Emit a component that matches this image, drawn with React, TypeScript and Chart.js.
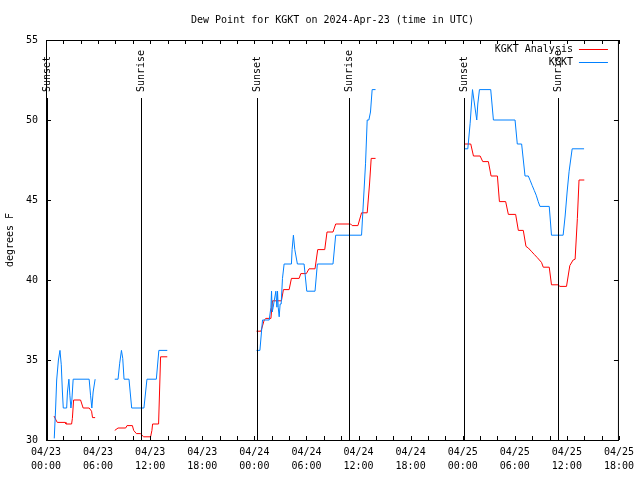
import React, { useEffect, useRef } from "react";
import { Chart, registerables } from "chart.js";

Chart.register(...registerables);

const TITLE = "Dew Point for KGKT on 2024-Apr-23 (time in UTC)";
const Y_LABEL = "degrees F";
const DAYS = ["04/23", "04/24", "04/25", "04/26"];
const X_TICK_HOURS = [0, 6, 12, 18, 24, 30, 36, 42, 48, 54, 60, 66];
const X_MIN = 0;
const X_MAX = 66;
const X_MINOR_STEP = 2;
const Y_TICKS = [30, 35, 40, 45, 50, 55];
const Y_MIN = 30;
const Y_MAX = 55;

const SERIES_NAMES = ["KGKT Analysis", "KGKT"];

const SUN_HOURS = [0.17, 10.94, 24.26, 34.94, 48.2, 58.93];
const SUN_LABELS = ["Sunset", "Sunrise", "Sunset", "Sunrise", "Sunset", "Sunrise"];

// KGKT observations (blue); null = gap
const OBS_T = [
  0.95, 1.11, 1.23, 1.43, 1.61, 1.76, 1.89, 1.99, 2.38, 2.47, 2.64, 2.75, 2.87, 2.98, 3.13, 4.97, 5.13, 5.28, 5.43, 5.66,
  6.8,
  7.92, 8.3, 8.49, 8.69, 8.84, 8.99, 9.56, 9.87, 11.28, 11.63, 12.71, 13.0, 13.97,
  19,
  24.25, 24.64, 24.94, 25.71, 25.91, 25.98, 26.06, 26.17, 26.29, 26.48, 26.6, 26.67, 26.75, 26.86, 26.97, 27.09, 27.24, 27.43,
  28.27, 28.35, 28.5, 28.66, 28.96, 29.73, 30.04, 30.99, 31.26, 33.06, 33.37, 36.35, 36.81, 37.0, 37.19, 37.38, 37.57, 37.96,
  43,
  48.21, 48.59, 48.86, 49.13, 49.36, 49.62, 49.74, 49.93, 51.23, 51.54, 54.03, 54.29, 54.79, 55.18, 55.56, 55.79, 56.01,
  56.24, 56.47, 56.7, 56.9, 57.97, 58.23, 59.57, 59.8, 60.03, 60.26, 60.61, 61.98,
];
const OBS_V = [
  30.1, 32.0, 33.75, 35.0, 35.6, 34.7, 33.0, 32.0, 32.0, 33.0, 33.8, 32.8, 32.0, 32.5, 33.8, 33.8, 32.8, 32.0, 33.0, 33.8,
  null,
  33.8, 33.8, 34.8, 35.6, 35.1, 33.8, 33.8, 32.0, 32.0, 33.8, 33.8, 35.6, 35.6,
  null,
  35.6, 35.6, 37.5, 37.5, 38.3, 39.3, 38.0, 38.3, 38.7, 39.3, 38.3, 39.3, 38.3, 37.7, 38.5, 38.5, 40.1, 41.0,
  41.0, 41.9, 42.8, 41.9, 41.0, 41.0, 39.3, 39.3, 41.0, 41.0, 42.8, 42.8, 47.3, 50.0, 50.0, 50.5, 51.9, 51.9,
  null,
  48.2, 48.2, 49.8, 51.9, 51.0, 50.0, 51.0, 51.9, 51.9, 50.0, 50.0, 48.5, 48.5, 46.5, 46.5, 46.2, 45.9,
  45.6, 45.3, 44.9, 44.6, 44.6, 42.8, 42.8, 44.0, 45.5, 46.8, 48.2, 48.2,
];

// KGKT analysis (red); null = gap
const ANA_T = [
  0.92, 1.15, 1.3, 2.22, 2.3, 2.95, 3.04, 3.18, 3.98, 4.28, 4.97, 5.25, 5.36, 5.66,
  6.8,
  7.92, 8.3, 9.18, 9.33, 9.95, 10.1, 10.41, 10.87, 11.25, 12.05, 12.2, 12.28, 12.97, 13.2, 13.97,
  19,
  24.25, 24.76, 25.14, 25.33, 25.91, 26.09, 27.12, 27.35, 28.01, 28.27, 29.16, 29.35, 29.99, 30.3, 30.99, 31.3, 32.11,
  32.37, 33.06, 33.37, 35.09, 35.27, 35.93, 36.35, 37.0, 37.27, 37.46, 37.96,
  43,
  48.21, 48.93, 49.24, 50.01, 50.31, 50.96, 51.27, 52.0, 52.23, 52.95, 53.26, 54.1, 54.41, 54.98, 55.29, 55.56, 55.9,
  56.24, 56.59, 57.08, 57.28, 57.97, 58.23, 59.0, 59.2, 59.96, 60.34, 60.72, 60.95, 61.21, 61.4, 62.01,
];
const ANA_V = [
  31.5, 31.25, 31.1, 31.1, 31.0, 31.0, 31.35, 32.5, 32.5, 32.0, 32.0, 31.8, 31.4, 31.4,
  null,
  30.6, 30.75, 30.75, 30.9, 30.9, 30.6, 30.4, 30.4, 30.2, 30.2, 30.6, 31.0, 31.0, 35.2, 35.2,
  null,
  36.8, 36.8, 37.5, 37.6, 37.6, 38.7, 38.7, 39.4, 39.4, 40.1, 40.1, 40.4, 40.4, 40.7, 40.7, 41.9, 41.9,
  43.0, 43.0, 43.5, 43.5, 43.4, 43.4, 44.2, 44.2, 46.0, 47.6, 47.6,
  null,
  48.5, 48.5, 47.75, 47.75, 47.4, 47.4, 46.5, 46.5, 44.9, 44.9, 44.1, 44.1, 43.1, 43.1, 42.1, 42.0, 41.8,
  41.6, 41.4, 41.1, 40.8, 40.8, 39.7, 39.7, 39.6, 39.6, 40.9, 41.25, 41.3, 43.85, 46.25, 46.25,
];

const RED = "#ff0000";
const BLUE = "#0080ff";
const FONT = "DejaVu Sans Mono";

function pad2(n: number) {
  return n < 10 ? "0" + n : String(n);
}

export default function App() {
  const ref = useRef<HTMLCanvasElement>(null);

  useEffect(() => {
    const canvas = ref.current;
    if (!canvas) return;
    const toPoints = (t: number[], v: (number | null)[]) => t.map((x, i) => ({ x, y: v[i] }));

    const decor = {
      id: "decor",
      afterDatasetsDraw(chart: any) {
        const { ctx, chartArea } = chart;
        const { left, right, top, bottom } = chartArea;
        const xs = chart.scales.x;
        const ys = chart.scales.y;
        ctx.save();
        ctx.font = `10px "${FONT}"`;
        ctx.fillStyle = "#000";
        ctx.strokeStyle = "#000";
        ctx.lineWidth = 1;

        // sunrise / sunset lines
        SUN_HOURS.forEach((h, i) => {
          const x = Math.round(xs.getPixelForValue(h)) + 0.5;
          ctx.beginPath();
          ctx.moveTo(x, top + 58);
          ctx.lineTo(x, bottom);
          ctx.stroke();
          ctx.save();
          ctx.translate(x, top + 52);
          ctx.rotate(-Math.PI / 2);
          ctx.textAlign = "left";
          ctx.textBaseline = "middle";
          ctx.fillText(SUN_LABELS[i], 0, 0);
          ctx.restore();
        });

        // frame
        ctx.strokeRect(left + 0.5, top + 0.5, right - left - 1, bottom - top);

        // x ticks
        ctx.beginPath();
        for (let h = X_MIN; h <= X_MAX; h += X_MINOR_STEP) {
          const x = Math.round(xs.getPixelForValue(h)) + 0.5;
          ctx.moveTo(x, bottom);
          ctx.lineTo(x, bottom - 4);
          ctx.moveTo(x, top);
          ctx.lineTo(x, top + 4);
        }
        // y ticks
        Y_TICKS.forEach((v) => {
          const y = Math.round(ys.getPixelForValue(v)) + 0.5;
          ctx.moveTo(left, y);
          ctx.lineTo(left + 5, y);
          ctx.moveTo(right, y);
          ctx.lineTo(right - 5, y);
        });
        ctx.stroke();

        // legend
        const colors = [RED, BLUE];
        SERIES_NAMES.forEach((name, i) => {
          const y = top + 9 + i * 13;
          ctx.fillStyle = "#000";
          ctx.textAlign = "right";
          ctx.textBaseline = "middle";
          ctx.fillText(name, right - 46, y);
          ctx.strokeStyle = colors[i];
          ctx.beginPath();
          ctx.moveTo(right - 40, Math.round(y) + 0.5);
          ctx.lineTo(right - 11, Math.round(y) + 0.5);
          ctx.stroke();
        });
        ctx.restore();
      },
    };

    const chart = new Chart(canvas, {
      type: "line",
      data: {
        datasets: [
          {
            label: SERIES_NAMES[0],
            data: toPoints(ANA_T, ANA_V),
            borderColor: RED,
            backgroundColor: RED,
            borderWidth: 1,
            pointRadius: 0,
            tension: 0,
            spanGaps: false,
            order: 1,
          },
          {
            label: SERIES_NAMES[1],
            data: toPoints(OBS_T, OBS_V),
            borderColor: BLUE,
            backgroundColor: BLUE,
            borderWidth: 1,
            pointRadius: 0,
            tension: 0,
            spanGaps: false,
            order: 0,
          },
        ],
      },
      options: {
        responsive: false,
        animation: false,
        layout: { padding: { left: 0, right: 19, top: 0, bottom: 0 } },
        plugins: {
          legend: { display: false },
          tooltip: { enabled: false },
          title: {
            display: true,
            text: TITLE,
            fullSize: false,
            color: "#000",
            font: { family: FONT, size: 10, weight: "normal", lineHeight: 1.2 },
            padding: { top: 14, bottom: 14 },
          },
        },
        scales: {
          x: {
            type: "linear",
            min: X_MIN,
            max: X_MAX,
            afterBuildTicks: (scale: any) => {
              scale.ticks = X_TICK_HOURS.map((v) => ({ value: v }));
            },
            afterFit: (scale: any) => {
              scale.height = 40;
            },
            grid: { display: false, drawTicks: false },
            border: { display: false },
            ticks: {
              autoSkip: false,
              maxRotation: 0,
              minRotation: 0,
              padding: 6,
              color: "#000",
              font: { family: FONT, size: 10, lineHeight: 1.35 },
              callback: (value: any) => {
                const v = Number(value);
                const d = Math.floor(v / 24);
                const h = v - d * 24;
                return [DAYS[d], pad2(h) + ":00"];
              },
            },
          },
          y: {
            type: "linear",
            min: Y_MIN,
            max: Y_MAX,
            afterBuildTicks: (scale: any) => {
              scale.ticks = Y_TICKS.map((v) => ({ value: v }));
            },
            afterFit: (scale: any) => {
              scale.width = 46;
            },
            grid: { display: false, drawTicks: false },
            border: { display: false },
            ticks: {
              padding: 8,
              color: "#000",
              font: { family: FONT, size: 10 },
              callback: (value: any) => String(value),
            },
            title: {
              display: true,
              text: Y_LABEL,
              color: "#000",
              font: { family: FONT, size: 10 },
              padding: { top: 4, bottom: 0 },
            },
          },
        },
      },
      plugins: [decor],
    } as any);

    return () => chart.destroy();
  }, []);

  return (
    <div style={{ position: "absolute", left: 0, top: 0, width: 640, height: 480, background: "#fff" }}>
      <canvas ref={ref} width={640} height={480} style={{ display: "block" }} />
    </div>
  );
}
